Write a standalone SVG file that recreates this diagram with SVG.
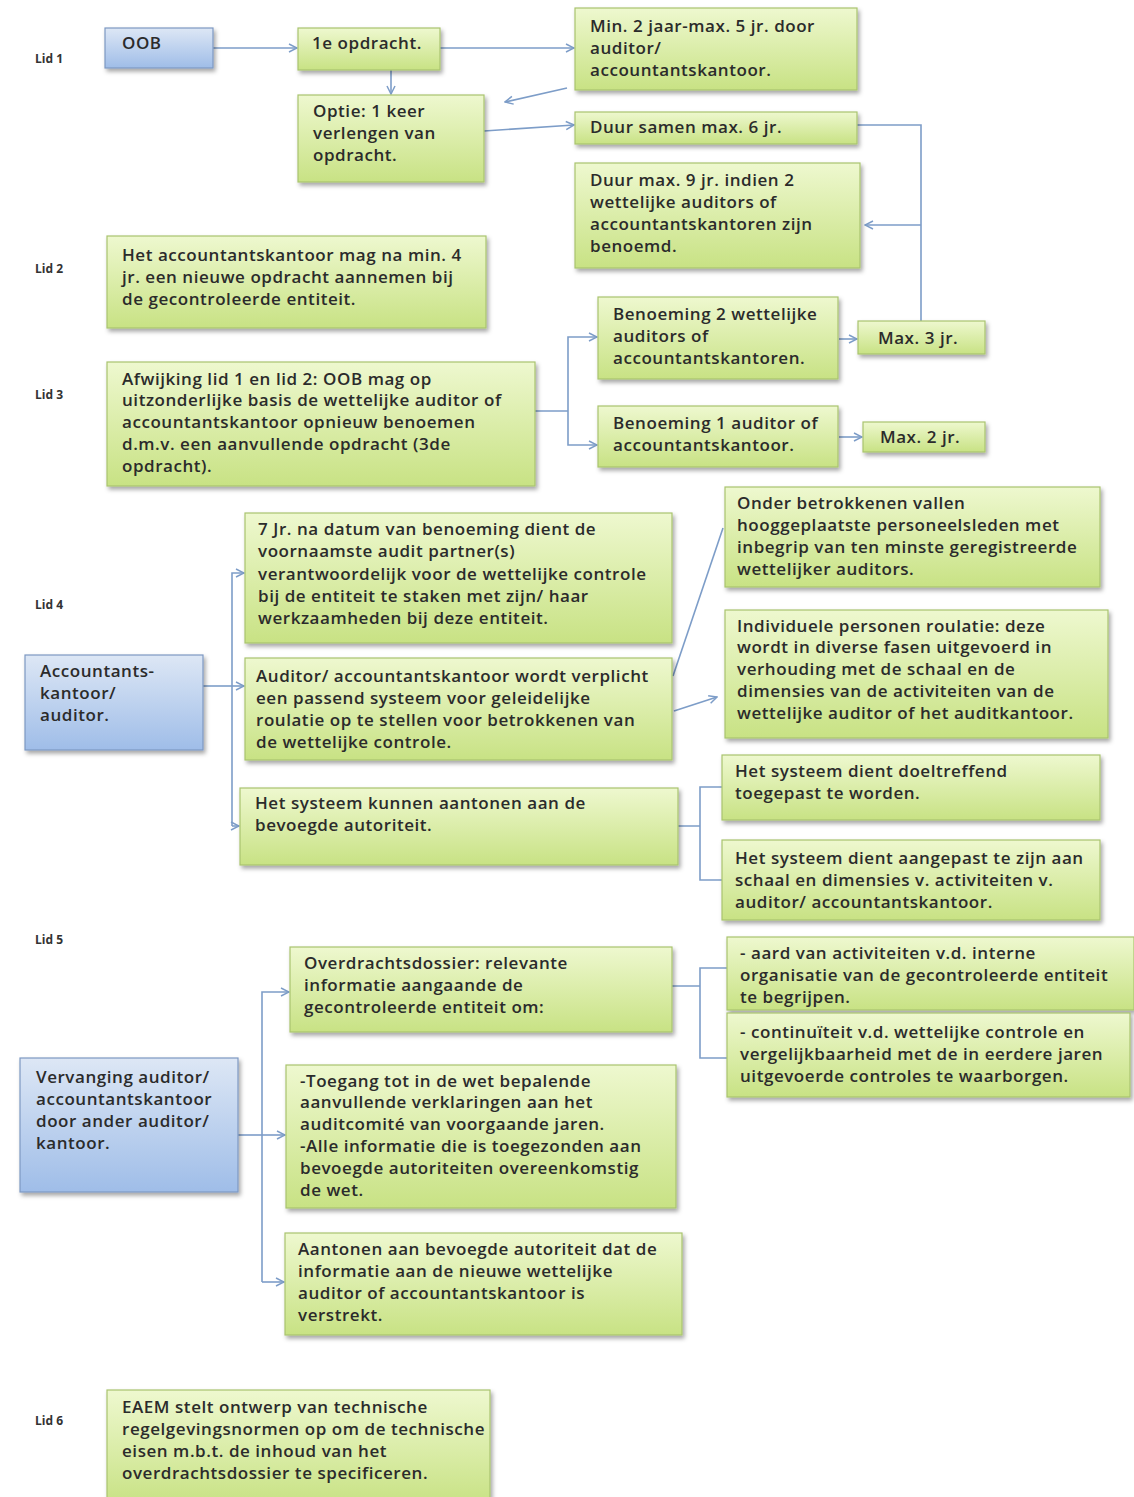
<svg xmlns="http://www.w3.org/2000/svg" width="1134" height="1497" viewBox="0 0 1134 1497">
<defs>
<linearGradient id="gg" x1="0" y1="0" x2="0" y2="1">
<stop offset="0" stop-color="#eef8cf"/>
<stop offset="1" stop-color="#c8e284"/>
</linearGradient>
<linearGradient id="bg" x1="0" y1="0" x2="0" y2="1">
<stop offset="0" stop-color="#dde7f5"/>
<stop offset="1" stop-color="#9fbde8"/>
</linearGradient>
<filter id="sh" x="-10%" y="-10%" width="125%" height="135%">
<feDropShadow dx="2" dy="3" stdDeviation="2" flood-color="#000" flood-opacity="0.35"/>
</filter>
<marker id="ar" viewBox="0 0 10 10" refX="9" refY="5" markerWidth="10" markerHeight="10" markerUnits="userSpaceOnUse" orient="auto">
<path d="M1,1 L9,5 L1,9" fill="none" stroke="#7d9dc8" stroke-width="1.5"/>
</marker>
</defs>
<style>
.g{fill:url(#gg);stroke:#a9c46e;stroke-width:1.2;filter:url(#sh)}
.b{fill:url(#bg);stroke:#7d98c2;stroke-width:1.2;filter:url(#sh)}
text{font-family:"Open Sans","Liberation Sans",sans-serif;font-size:17px;letter-spacing:0.55px;font-weight:600;fill:#2b2b2b}
.lid{font-size:12px;letter-spacing:0;font-weight:700;fill:#333}
.c{fill:none;stroke:#7d9dc8;stroke-width:1.6}
.a{marker-end:url(#ar)}
</style>
<rect width="1134" height="1497" fill="#fff"/>

<g id="lids">
<text class="lid" x="35" y="63">Lid 1</text>
<text class="lid" x="35" y="273">Lid 2</text>
<text class="lid" x="35" y="399">Lid 3</text>
<text class="lid" x="35" y="609">Lid 4</text>
<text class="lid" x="35" y="944">Lid 5</text>
<text class="lid" x="35" y="1425">Lid 6</text>
</g>

<g id="connectors">
<path class="c a" d="M213,48 H297"/>
<path class="c a" d="M440,48 H574"/>
<path class="c a" d="M391,70 V94"/>
<path class="c a" d="M567,88 L505,102"/>
<path class="c a" d="M484,131 L574,125"/>
<path class="c" d="M857,125 H921 V321"/>
<path class="c a" d="M921,225 H865"/>
<path class="c" d="M535,411 H568"/>
<path class="c a" d="M568,411 V337 H597"/>
<path class="c a" d="M568,411 V445 H597"/>
<path class="c a" d="M839,339 H857"/>
<path class="c a" d="M839,437 H862"/>
<path class="c" d="M203,686 H232"/>
<path class="c a" d="M232,826 V573 H244"/>
<path class="c a" d="M232,686 H244"/>
<path class="c a" d="M232,826 H239"/>
<path class="c" d="M673,676 L723,528"/>
<path class="c a" d="M674,711 L717,697"/>
<path class="c" d="M678,826 H700 M722,787 H700 V880 H722"/>
<path class="c" d="M238,1135 H262"/>
<path class="c a" d="M262,1282 V992 H289"/>
<path class="c a" d="M262,1135 H285"/>
<path class="c a" d="M262,1282 H284"/>
<path class="c" d="M672,986 H700 M727,968 H700 V1058 H727"/>
</g>

<g id="n-oob"><rect class="b" x="105" y="28" width="108" height="40"/><text x="122" y="49">OOB</text></g>
<g id="n-1e"><rect class="g" x="298" y="28" width="142" height="42"/><text x="312" y="49">1e opdracht.</text></g>
<g id="n-min2"><rect class="g" x="575" y="8" width="282" height="82"/>
<text x="590" y="32">Min. 2 jaar-max. 5 jr. door</text><text x="590" y="54">auditor/</text><text x="590" y="76">accountantskantoor.</text></g>
<g id="n-optie"><rect class="g" x="298" y="95" width="186" height="87"/>
<text x="313" y="117">Optie: 1 keer</text><text x="313" y="139">verlengen van</text><text x="313" y="161">opdracht.</text></g>
<g id="n-duur6"><rect class="g" x="575" y="112" width="282" height="32"/><text x="590" y="133">Duur samen max. 6 jr.</text></g>
<g id="n-duur9"><rect class="g" x="575" y="163" width="285" height="105"/>
<text x="590" y="186">Duur max. 9 jr. indien 2</text><text x="590" y="208">wettelijke auditors of</text><text x="590" y="230">accountantskantoren zijn</text><text x="590" y="252">benoemd.</text></g>
<g id="n-lid2"><rect class="g" x="107" y="236" width="379" height="92"/>
<text x="122" y="261">Het accountantskantoor mag na min. 4</text><text x="122" y="283">jr. een nieuwe opdracht aannemen bij</text><text x="122" y="305">de gecontroleerde entiteit.</text></g>
<g id="n-ben2"><rect class="g" x="598" y="297" width="240" height="82"/>
<text x="613" y="320">Benoeming 2 wettelijke</text><text x="613" y="342">auditors of</text><text x="613" y="364">accountantskantoren.</text></g>
<g id="n-max3"><rect class="g" x="858" y="321" width="127" height="33"/><text x="878" y="344">Max. 3 jr.</text></g>
<g id="n-lid3"><rect class="g" x="107" y="362" width="428" height="124"/>
<text x="122" y="385">Afwijking lid 1 en lid 2: OOB mag op</text><text x="122" y="406">uitzonderlijke basis de wettelijke auditor of</text><text x="122" y="428">accountantskantoor opnieuw benoemen</text><text x="122" y="450">d.m.v. een aanvullende opdracht (3de</text><text x="122" y="472">opdracht).</text></g>
<g id="n-ben1"><rect class="g" x="598" y="406" width="240" height="61"/>
<text x="613" y="429">Benoeming 1 auditor of</text><text x="613" y="451">accountantskantoor.</text></g>
<g id="n-max2"><rect class="g" x="863" y="422" width="122" height="30"/><text x="880" y="443">Max. 2 jr.</text></g>

<g id="n-7jr"><rect class="g" x="245" y="513" width="427" height="130"/>
<text x="258" y="535">7 Jr. na datum van benoeming dient de</text><text x="258" y="557">voornaamste audit partner(s)</text><text x="258" y="580">verantwoordelijk voor de wettelijke controle</text><text x="258" y="602">bij de entiteit te staken met zijn/ haar</text><text x="258" y="624">werkzaamheden bij deze entiteit.</text></g>
<g id="n-acc"><rect class="b" x="25" y="655" width="178" height="95"/>
<text x="40" y="677">Accountants-</text><text x="40" y="699">kantoor/</text><text x="40" y="721">auditor.</text></g>
<g id="n-audit"><rect class="g" x="245" y="658" width="427" height="102"/>
<text x="256" y="682">Auditor/ accountantskantoor  wordt verplicht</text><text x="256" y="704">een passend systeem voor geleidelijke</text><text x="256" y="726">roulatie op te stellen voor betrokkenen van</text><text x="256" y="748">de wettelijke controle.</text></g>
<g id="n-onder"><rect class="g" x="725" y="487" width="375" height="100"/>
<text x="737" y="509">Onder betrokkenen vallen</text><text x="737" y="531">hooggeplaatste personeelsleden met</text><text x="737" y="553">inbegrip van ten minste geregistreerde</text><text x="737" y="575">wettelijker auditors.</text></g>
<g id="n-indiv"><rect class="g" x="725" y="610" width="383" height="128"/>
<text x="737" y="632">Individuele personen roulatie: deze</text><text x="737" y="653">wordt in diverse fasen uitgevoerd in</text><text x="737" y="675">verhouding met de schaal en de</text><text x="737" y="697">dimensies van de activiteiten van de</text><text x="737" y="719">wettelijke auditor of het auditkantoor.</text></g>
<g id="n-kunnen"><rect class="g" x="240" y="788" width="438" height="77"/>
<text x="255" y="809">Het systeem kunnen aantonen aan de</text><text x="255" y="831">bevoegde autoriteit.</text></g>
<g id="n-doel"><rect class="g" x="722" y="755" width="378" height="65"/>
<text x="735" y="777">Het systeem dient doeltreffend</text><text x="735" y="799">toegepast te worden.</text></g>
<g id="n-aangepast"><rect class="g" x="722" y="840" width="378" height="80"/>
<text x="735" y="864">Het systeem dient aangepast te zijn aan</text><text x="735" y="886">schaal en dimensies v. activiteiten v.</text><text x="735" y="908">auditor/ accountantskantoor.</text></g>

<g id="n-overdr"><rect class="g" x="290" y="947" width="382" height="85"/>
<text x="304" y="969">Overdrachtsdossier: relevante</text><text x="304" y="991">informatie aangaande de</text><text x="304" y="1013">gecontroleerde entiteit om:</text></g>
<g id="n-aard"><rect class="g" x="727" y="937" width="407" height="73"/>
<text x="740" y="959">- aard van activiteiten v.d. interne</text><text x="740" y="981">organisatie van de gecontroleerde entiteit</text><text x="740" y="1003">te begrijpen.</text></g>
<g id="n-cont"><rect class="g" x="727" y="1013" width="403" height="84"/>
<text x="740" y="1038">- continuïteit v.d. wettelijke controle en</text><text x="740" y="1060">vergelijkbaarheid met de in eerdere jaren</text><text x="740" y="1082">uitgevoerde controles te waarborgen.</text></g>
<g id="n-verv"><rect class="b" x="20" y="1058" width="218" height="134"/>
<text x="36" y="1083">Vervanging auditor/</text><text x="36" y="1105">accountantskantoor</text><text x="36" y="1127">door ander auditor/</text><text x="36" y="1149">kantoor.</text></g>
<g id="n-toeg"><rect class="g" x="286" y="1065" width="390" height="143"/>
<text x="300" y="1087">-Toegang tot in de wet bepalende</text><text x="300" y="1108">aanvullende verklaringen aan het</text><text x="300" y="1130">auditcomité van voorgaande jaren.</text><text x="300" y="1152">-Alle informatie die is toegezonden aan</text><text x="300" y="1174">bevoegde autoriteiten overeenkomstig</text><text x="300" y="1196">de wet.</text></g>
<g id="n-aant"><rect class="g" x="285" y="1233" width="397" height="102"/>
<text x="298" y="1255">Aantonen aan bevoegde autoriteit dat de</text><text x="298" y="1277">informatie aan de nieuwe wettelijke</text><text x="298" y="1299">auditor of accountantskantoor is</text><text x="298" y="1321">verstrekt.</text></g>

<g id="n-eaem"><rect class="g" x="107" y="1390" width="383" height="115"/>
<text x="122" y="1413">EAEM  stelt ontwerp van technische</text><text x="122" y="1435">regelgevingsnormen op om de technische</text><text x="122" y="1457">eisen m.b.t. de inhoud van het</text><text x="122" y="1479">overdrachtsdossier te specificeren.</text></g>
</svg>
